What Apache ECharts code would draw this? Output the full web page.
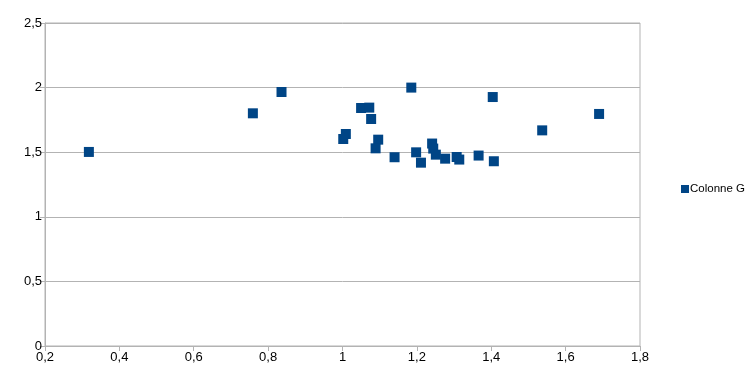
<!DOCTYPE html>
<html><head><meta charset="utf-8">
<script src="https://cdn.jsdelivr.net/npm/echarts@6/dist/echarts.min.js"></script>
<style>html,body{margin:0;padding:0;background:#fff}#c{width:753px;height:371px}</style>
</head><body><div id="c"></div>
<script>
const seriesName = "Colonne G";
const xValues = [0.318, 0.759, 0.836, 1.050, 1.072, 1.077, 1.009, 1.002, 1.096, 1.089, 1.140, 1.185, 1.198, 1.211, 1.241, 1.244, 1.251, 1.276, 1.307, 1.314, 1.366, 1.404, 1.407, 1.537, 1.690];
const yValues = [1.502, 1.801, 1.966, 1.842, 1.845, 1.757, 1.641, 1.602, 1.597, 1.530, 1.461, 2.000, 1.499, 1.419, 1.567, 1.528, 1.481, 1.450, 1.463, 1.443, 1.474, 1.927, 1.430, 1.669, 1.796];
const fmt = v => String(+v.toFixed(1)).replace('.', ',');
const font = "'Liberation Sans',Arial,sans-serif";
const chart = echarts.init(document.getElementById('c'));
chart.setOption({
  animation: false,
  grid: {left: 45, right: 113, top: 23, bottom: 25, show: true, borderColor: '#b3b3b3', borderWidth: 1},
  legend: {
    orient: 'vertical', left: 676, top: 178, itemWidth: 8, itemHeight: 8, itemGap: 4,
    textStyle: {fontFamily: font, fontSize: 11.5, color: '#000', padding: [0,0,0,-4]},
    data: [{name: seriesName, icon: 'rect'}]
  },
  xAxis: {
    type: 'value', min: 0.2, max: 1.8, interval: 0.2,
    axisLine: {lineStyle: {color: '#b3b3b3'}},
    axisTick: {show: true, length: 5, lineStyle: {color: '#b3b3b3'}},
    splitLine: {show: false},
    axisLabel: {formatter: fmt, fontFamily: font, fontSize: 13, color: '#000', margin: 5}
  },
  yAxis: {
    type: 'value', min: 0, max: 2.5, interval: 0.5,
    axisLine: {show: true, lineStyle: {color: '#b3b3b3'}},
    axisTick: {show: true, length: 5, lineStyle: {color: '#b3b3b3'}},
    splitLine: {lineStyle: {color: '#b3b3b3'}},
    axisLabel: {formatter: fmt, fontFamily: font, fontSize: 13, color: '#000', margin: 3}
  },
  series: [{
    name: seriesName, type: 'scatter', symbol: 'rect', symbolSize: 10,
    itemStyle: {color: '#004586', opacity: 1},
    data: xValues.map((x, i) => [x, yValues[i]])
  }]
});
</script></body></html>
